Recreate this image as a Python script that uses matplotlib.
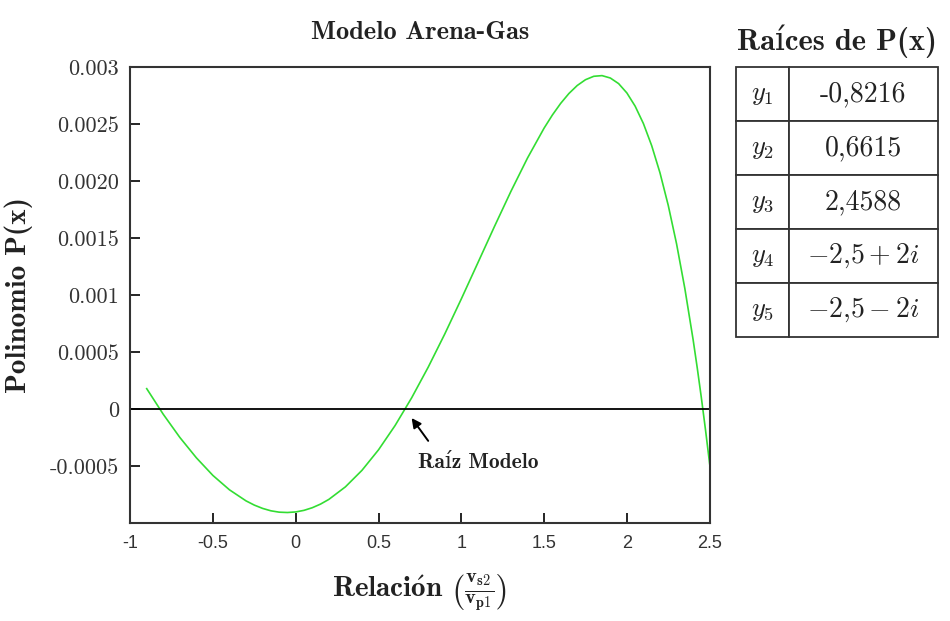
import matplotlib
matplotlib.use("Agg")
import matplotlib.pyplot as plt

plt.rcParams['mathtext.fontset'] = 'cm'

# values
x_vals = [-0.9, -0.8, -0.7, -0.6, -0.5, -0.4, -0.3, -0.25, -0.2, -0.15, -0.1,
          -0.05, 0.0, 0.05, 0.1, 0.15, 0.2, 0.3, 0.4, 0.5, 0.6, 0.7, 0.8,
          0.9, 1.0, 1.1, 1.2, 1.3, 1.4, 1.5, 1.55, 1.6, 1.65, 1.7, 1.75,
          1.8, 1.85, 1.9, 1.95, 2.0, 2.05, 2.1, 2.15, 2.2, 2.25, 2.3, 2.35,
          2.4, 2.425, 2.45, 2.475, 2.5]
p_vals = [0.000178, -0.000047, -0.000250, -0.000429, -0.000584, -0.000710,
          -0.000807, -0.000844, -0.000873, -0.000894, -0.000906, -0.000909,
          -0.000904, -0.000890, -0.000867, -0.000835, -0.000794, -0.000684,
          -0.000539, -0.000359, -0.000146, 0.000097, 0.000366, 0.000657,
          0.000965, 0.001282, 0.001600, 0.001910, 0.002202, 0.002464,
          0.002579, 0.002681, 0.002768, 0.002838, 0.002889, 0.002919,
          0.002925, 0.002904, 0.002855, 0.002773, 0.002657, 0.002504,
          0.002310, 0.002072, 0.001786, 0.001450, 0.001058, 0.000609,
          0.000361, 0.000097, -0.000184, -0.000482]

y_ticks = [-0.0005, 0, 0.0005, 0.001, 0.0015, 0.002, 0.0025, 0.003]
y_tick_labels = ['-0.0005', '0', '0.0005', '0.001', '0.0015', '0.0020', '0.0025', '0.003']
x_ticks = [-1, -0.5, 0, 0.5, 1, 1.5, 2, 2.5]
x_tick_labels = ['-1', '-0.5', '0', '0.5', '1', '1.5', '2', '2.5']

root_names = [r'$y_1$', r'$y_2$', r'$y_3$', r'$y_4$', r'$y_5$']
root_values = ['-0,8216', '0,6615', '2,4588', r'$-2{,}5+2i$', r'$-2{,}5-2i$']

bold_serif = ['cmb10', 'DejaVu Serif']

fig = plt.figure(figsize=(9.5, 6.21), dpi=100)
ax = fig.add_axes([0.137, 0.158, 0.610, 0.734])

ax.plot(x_vals, p_vals, color='#33dd33', linewidth=1.2)
ax.axhline(0, color='black', linewidth=1.3)

ax.set_xlim(-1, 2.5)
ax.set_ylim(-0.001, 0.003)
ax.set_xticks(x_ticks)
ax.set_xticklabels(x_tick_labels, family='Liberation Sans', fontsize=13, color='#333333')
ax.set_yticks(y_ticks)
ax.set_yticklabels(y_tick_labels, family='cmr10', fontsize=16, color='#333333')
ax.tick_params(direction='in', length=7, width=1.2, top=False, right=False)
ax.tick_params(axis='x', pad=9)
ax.tick_params(axis='y', pad=8)
for s in ax.spines.values():
    s.set_linewidth(1.5)
    s.set_color('#333333')

ax.annotate('', xy=(0.69, -0.00006), xytext=(0.81, -0.0003),
            arrowprops=dict(arrowstyle='-|>', color='black', lw=1.4, mutation_scale=14))
ax.text(1.10, -0.00047, 'Raíz Modelo', ha='center', va='center',
        family=bold_serif, fontsize=15.5, color='#222222')

ax.set_title('Modelo Arena-Gas', family=bold_serif, fontsize=19, pad=20, color='#222222')
ax.set_xlabel(r'$\mathbf{Relaci\acute{o}n}\ \left(\frac{\mathbf{v_{s2}}}{\mathbf{v_{p1}}}\right)$',
              fontsize=21, labelpad=14, color='#222222')
ax.set_ylabel('Polinomio P(x)', family=bold_serif, fontsize=21, labelpad=12, color='#222222')

# table of roots
tax = fig.add_axes([0.7747, 0.4573, 0.2126, 0.4347])
tax.axis('off')
cells = [[n, v] for n, v in zip(root_names, root_values)]
tbl = tax.table(cellText=cells, bbox=[0, 0, 1, 1], colWidths=[0.262, 0.738], cellLoc='center')
tbl.auto_set_font_size(False)
for (r, c), cell in tbl.get_celld().items():
    cell.set_linewidth(1.3)
    cell.set_edgecolor('#333333')
    txt = cell.get_text()
    txt.set_color('#222222')
    if c == 0:
        txt.set_fontsize(19)
    else:
        txt.set_fontsize(20)
        txt.set_family('cmr10')
tax.set_title('Raíces de P(x)', family=bold_serif, fontsize=22, pad=12, color='#222222')

fig.savefig('out.png', dpi=100)
